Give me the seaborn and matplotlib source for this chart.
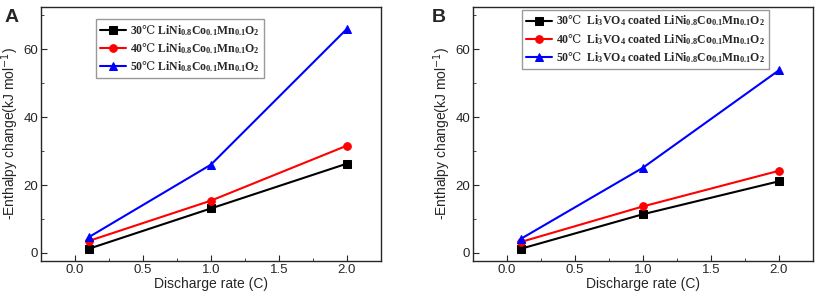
import numpy as np
import pandas as pd
import matplotlib
matplotlib.use("Agg")
import matplotlib.pyplot as plt
from matplotlib.ticker import MultipleLocator
import seaborn as sns

sns.set_style("ticks")
plt.rcParams["font.family"] = ["Liberation Sans", "DejaVu Sans"]
plt.rcParams["mathtext.fontset"] = "custom"
plt.rcParams["mathtext.rm"] = "Liberation Serif:bold"
plt.rcParams["mathtext.it"] = "Liberation Serif:bold"
plt.rcParams["mathtext.bf"] = "Liberation Serif:bold"
plt.rcParams["mathtext.sf"] = "DejaVu Serif"

rates = [0.1, 1.0, 2.0]
temps = ["30", "40", "50"]

# panel A: bare LiNi0.8Co0.1Mn0.1O2
a_30 = [1.2, 13.1, 26.3]
a_40 = [3.5, 15.4, 31.6]
a_50 = [4.6, 26.0, 66.0]

# panel B: Li3VO4 coated
b_30 = [1.2, 11.4, 21.1]
b_40 = [3.2, 13.7, 24.2]
b_50 = [4.1, 25.1, 53.8]

# the degree-Celsius sign is missing from Liberation Serif, so take it from DejaVu
deg = r"$\mathsf{℃}$"
ncm = r"LiNi$_{0.8}$Co$_{0.1}$Mn$_{0.1}$O$_2$"
labels_a = [f"{t}{deg} {ncm}" for t in temps]
labels_b = [f"{t}{deg}  Li$_3$VO$_4$ coated {ncm}" for t in temps]

colors = ["black", "red", "blue"]
marks = ["s", "o", "^"]


def make_df(series, labels):
    rows = []
    for vals, lab in zip(series, labels):
        for x, y in zip(rates, vals):
            rows.append({"rate": x, "dH": y, "series": lab})
    return pd.DataFrame(rows)


fig = plt.figure(figsize=(8.19, 2.96), dpi=100)
ax_a = fig.add_axes([0.050, 0.118, 0.415, 0.860])
ax_b = fig.add_axes([0.5775, 0.118, 0.415, 0.860])

panels = [
    (ax_a, make_df([a_30, a_40, a_50], labels_a), labels_a, "A", (0.162, 0.952), 0.006),
    (ax_b, make_df([b_30, b_40, b_50], labels_b), labels_b, "B", (0.145, 0.988), 0.527),
]

for ax, df, labels, letter, leg_pos, lx in panels:
    sns.lineplot(data=df, x="rate", y="dH", hue="series", style="series",
                 hue_order=labels, style_order=labels,
                 palette=dict(zip(labels, colors)),
                 markers=dict(zip(labels, marks)), dashes=False,
                 markersize=5.5, markeredgecolor=None, linewidth=1.5, ax=ax)
    ax.set_xlim(-0.25, 2.25)
    ax.set_ylim(-2.4, 72.6)
    ax.xaxis.set_major_locator(MultipleLocator(0.5))
    ax.xaxis.set_minor_locator(MultipleLocator(0.25))
    ax.yaxis.set_major_locator(MultipleLocator(20))
    ax.yaxis.set_minor_locator(MultipleLocator(10))
    ax.tick_params(which="both", direction="in", labelsize=9.5, pad=2)
    ax.tick_params(which="major", length=4)
    ax.tick_params(which="minor", length=2)
    for s in ax.spines.values():
        s.set_linewidth(1.0)
    ax.set_xlabel("Discharge rate (C)", fontsize=10, labelpad=1)
    ax.set_ylabel("-Enthalpy change(kJ mol$^{-1}$)", fontsize=10, labelpad=2)
    ax.yaxis.label.set_math_fontfamily("dejavusans")
    leg = ax.legend(loc="upper left", bbox_to_anchor=leg_pos, frameon=True,
                    fancybox=False, edgecolor="gray", handlelength=2.2,
                    handletextpad=0.3, borderpad=0.35, labelspacing=0.3,
                    borderaxespad=0,
                    prop={"family": ["Liberation Serif", "DejaVu Serif"],
                          "weight": "bold", "size": 8.5})
    leg.get_frame().set_linewidth(1.0)
    fig.text(lx, 0.926, letter, fontsize=14, fontweight="bold")

fig.savefig("out.png", dpi=100)
